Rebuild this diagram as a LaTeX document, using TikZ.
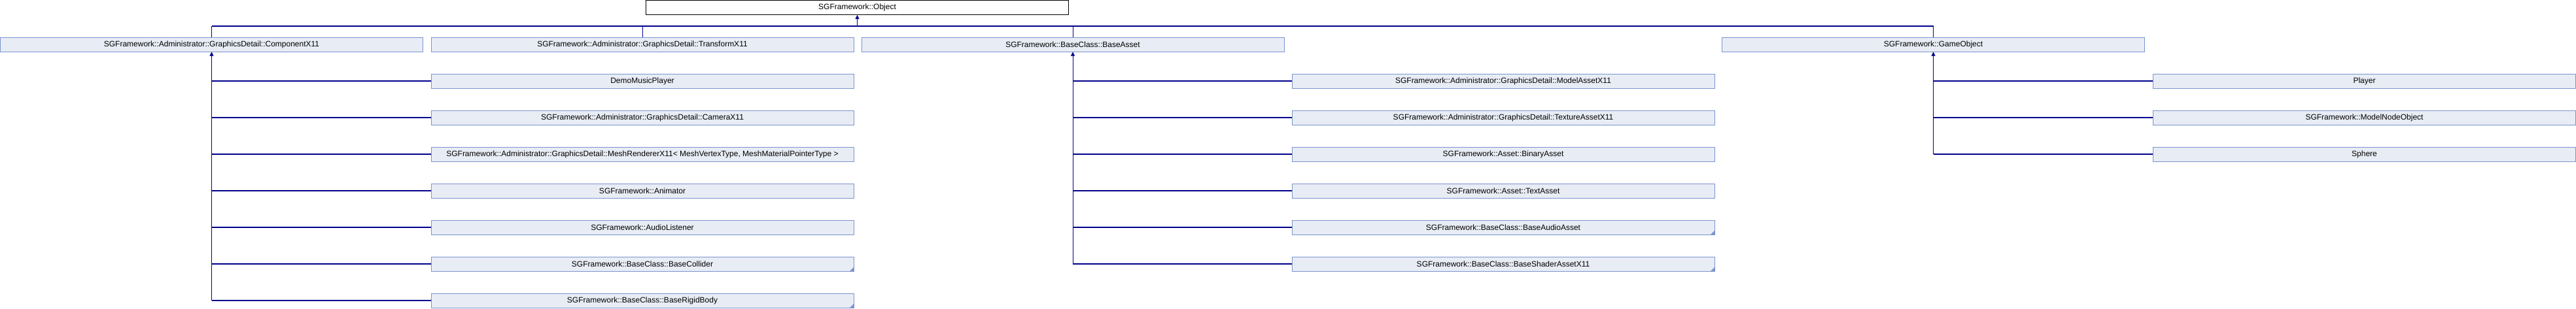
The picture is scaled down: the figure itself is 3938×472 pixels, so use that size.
\documentclass[tikz,border=0pt]{standalone}
\usepackage{fontspec}
\setmainfont{Liberation Sans}
\usepackage{tikz}
\usetikzlibrary{arrows.meta,positioning}
\definecolor{boxfill}{RGB}{232,236,244}
\definecolor{boxline}{RGB}{124,148,206}
\definecolor{linkblue}{RGB}{0,0,140}

\begin{document}
\begin{tikzpicture}
		[x=1pt, y=-1pt, inner sep=0pt, font=\fontsize{12}{14}\selectfont,
		box/.style		= {rectangle,draw=boxline,fill=boxfill,line width=1pt,minimum width=646pt,minimum height=22pt},
		root/.style		= {box,draw=black,fill=white},
		more/.style		= {path picture={\fill[boxline] (path picture bounding box.south east) -- ++(-6pt,0pt) -- ++(6pt,6pt) -- cycle;}},
		paths/.style	= {->, >={Triangle[length=6pt,width=6pt]}, draw=linkblue, line width=1pt},
		stem/.style		= {draw=linkblue, line width=1pt},
		branch/.style	= {draw=linkblue, line width=2pt}]
		
		\useasboundingbox (0,0) rectangle (3938,472);
		
		\node at (1310.5, 11.5)	[root]		(obj)		{SGFramework::Object};
		
		\node at (323.5, 68)	[box]		(comp)		{SGFramework::Administrator::GraphicsDetail::ComponentX11};
		\node at (982, 68)		[box]		(trans)		{SGFramework::Administrator::GraphicsDetail::TransformX11};
		\node at (1640, 68)		[box]		(asset)		{SGFramework::BaseClass::BaseAsset};
		\node at (2955.5, 68)	[box]		(gobj)		{SGFramework::GameObject};
		
		\node at (982, 124)		[box]		(demo)		{DemoMusicPlayer};
		\node at (982, 180)		[box]		(cam)		{SGFramework::Administrator::GraphicsDetail::CameraX11};
		\node at (982, 236)		[box]		(mesh)		{SGFramework::Administrator::GraphicsDetail::MeshRendererX11< MeshVertexType, MeshMaterialPointerType >};
		\node at (982, 292)		[box]		(anim)		{SGFramework::Animator};
		\node at (982, 348)		[box]		(listen)	{SGFramework::AudioListener};
		\node at (982, 404)		[box,more]	(collide)	{SGFramework::BaseClass::BaseCollider};
		\node at (982, 460)		[box,more]	(rigid)		{SGFramework::BaseClass::BaseRigidBody};
		
		\node at (2298, 124)	[box]		(model)		{SGFramework::Administrator::GraphicsDetail::ModelAssetX11};
		\node at (2298, 180)	[box]		(tex)		{SGFramework::Administrator::GraphicsDetail::TextureAssetX11};
		\node at (2298, 236)	[box]		(bin)		{SGFramework::Asset::BinaryAsset};
		\node at (2298, 292)	[box]		(txt)		{SGFramework::Asset::TextAsset};
		\node at (2298, 348)	[box,more]	(audio)		{SGFramework::BaseClass::BaseAudioAsset};
		\node at (2298, 404)	[box,more]	(shader)	{SGFramework::BaseClass::BaseShaderAssetX11};
		
		\node at (3614.5, 124)	[box]		(player)	{Player};
		\node at (3614.5, 180)	[box]		(mnode)		{SGFramework::ModelNodeObject};
		\node at (3614.5, 236)	[box]		(sphere)	{Sphere};
		
		\coordinate (bus) at (1310.5, 40);
		
		\draw [paths] (bus) -- (obj.south);
		\draw [branch] (comp.north |- bus) -- (gobj.north |- bus);
		\draw [stem] (comp.north |- bus) -- (comp.north);
		\draw [stem] (trans.north |- bus) -- (trans.north);
		\draw [stem] (asset.north |- bus) -- (asset.north);
		\draw [stem] (gobj.north |- bus) -- (gobj.north);
		
		\draw [paths] (comp.south |- rigid.west) -- (comp.south);
		\draw [branch] (comp.south |- demo.west) -- (demo.west);
		\draw [branch] (comp.south |- cam.west) -- (cam.west);
		\draw [branch] (comp.south |- mesh.west) -- (mesh.west);
		\draw [branch] (comp.south |- anim.west) -- (anim.west);
		\draw [branch] (comp.south |- listen.west) -- (listen.west);
		\draw [branch] (comp.south |- collide.west) -- (collide.west);
		\draw [branch] (comp.south |- rigid.west) -- (rigid.west);
		
		\draw [paths] (asset.south |- shader.west) -- (asset.south);
		\draw [branch] (asset.south |- model.west) -- (model.west);
		\draw [branch] (asset.south |- tex.west) -- (tex.west);
		\draw [branch] (asset.south |- bin.west) -- (bin.west);
		\draw [branch] (asset.south |- txt.west) -- (txt.west);
		\draw [branch] (asset.south |- audio.west) -- (audio.west);
		\draw [branch] (asset.south |- shader.west) -- (shader.west);
		
		\draw [paths] (gobj.south |- sphere.west) -- (gobj.south);
		\draw [branch] (gobj.south |- player.west) -- (player.west);
		\draw [branch] (gobj.south |- mnode.west) -- (mnode.west);
		\draw [branch] (gobj.south |- sphere.west) -- (sphere.west);
		
\end{tikzpicture}
\end{document}
